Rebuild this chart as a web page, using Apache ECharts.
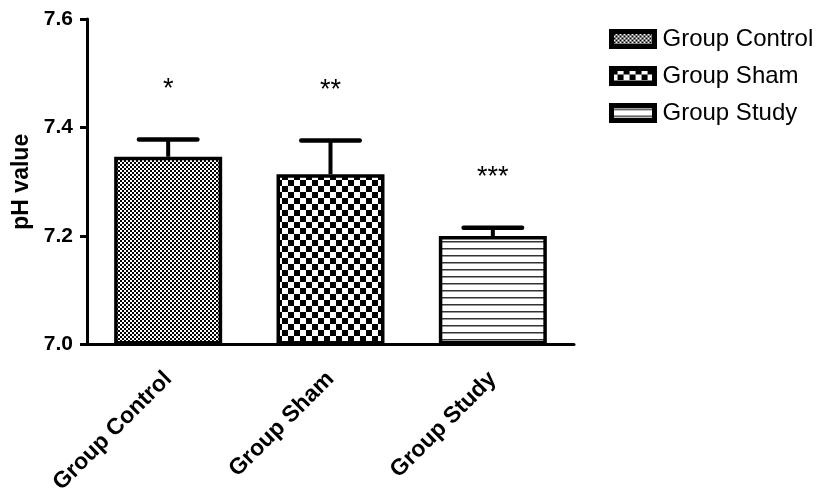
<!DOCTYPE html>
<html>
<head>
<meta charset="utf-8">
<script src="https://cdn.jsdelivr.net/npm/echarts@6/dist/echarts.min.js"></script>
<style>
  html, body { margin: 0; padding: 0; background: #fff; }
  #chart { width: 828px; height: 494px; }
</style>
</head>
<body>
<div id="chart"></div>
<script>
// pH by group: mean with upward SEM bar and significance marks
const categories = ['Group Control', 'Group Sham', 'Group Study'];
const meanPH = [7.346, 7.314, 7.200];
const semPH = [0.032, 0.062, 0.015];
const significance = ['*', '**', '***'];
const yTicks = [7.0, 7.2, 7.4, 7.6];

const FONT = '"Liberation Sans", Arial, Helvetica, sans-serif';

// Fill patterns for the bars (tiled canvases)
function makePattern(w, h, draw) {
  const c = document.createElement('canvas');
  c.width = w; c.height = h;
  const ctx = c.getContext('2d');
  ctx.fillStyle = '#fff';
  ctx.fillRect(0, 0, w, h);
  draw(ctx);
  return { image: c, repeat: 'repeat' };
}
const fineChecks = makePattern(4, 4, ctx => {
  ctx.fillStyle = '#000';
  ctx.fillRect(0, 0, 2, 2);
  ctx.fillRect(2, 2, 2, 2);
});
const coarseChecks = makePattern(12, 12, ctx => {
  ctx.fillStyle = '#000';
  ctx.fillRect(0, 0, 6, 6);
  ctx.fillRect(6, 6, 6, 6);
});
const hLines = makePattern(8, 7, ctx => {
  ctx.fillStyle = '#333';
  ctx.fillRect(0, 3, 8, 1.5);
});
const fills = [fineChecks, coarseChecks, hLines];

const barSeries = categories.map((name, i) => ({
  type: 'bar',
  name: name,
  data: categories.map((_, j) => (j === i ? meanPH[i] : '-')),
  barWidth: 108,
  barGap: '-100%',
  itemStyle: { color: fills[i], borderColor: '#000', borderWidth: 3.5 },
  emphasis: { disabled: true },
  z: 2
}));

const errorSeries = {
  type: 'custom',
  name: 'SEM',
  data: categories.map((_, i) => [i, meanPH[i], meanPH[i] + semPH[i]]),
  encode: { x: 0, y: [1, 2] },
  z: 3,
  silent: true,
  renderItem(params, api) {
    const i = api.value(0);
    const base = api.coord([i, api.value(1)]);
    const top = api.coord([i, api.value(2)]);
    const half = api.size([1, 0])[0] * 0.18;
    return {
      type: 'group',
      children: [
        { type: 'line', shape: { x1: base[0], y1: base[1], x2: top[0], y2: top[1] },
          style: { stroke: '#000', lineWidth: 4 } },
        { type: 'line', shape: { x1: top[0] - half, y1: top[1], x2: top[0] + half, y2: top[1] },
          style: { stroke: '#000', lineWidth: 4.5, lineCap: 'round' } },
        { type: 'text', x: top[0], y: top[1] - 50,
          style: { text: significance[params.dataIndex], fill: '#000', font: '27px ' + FONT,
                   align: 'center', verticalAlign: 'middle' } }
      ]
    };
  }
};

const chart = echarts.init(document.getElementById('chart'), null, { renderer: 'canvas' });
chart.setOption({
  backgroundColor: '#fff',
  animation: false,
  textStyle: { fontFamily: FONT, color: '#000' },
  legend: {
    data: categories,
    orient: 'vertical',
    left: 604,
    top: 22,
    icon: 'rect',
    itemWidth: 43,
    itemHeight: 15,
    itemGap: 13,
    selectedMode: false,
    itemStyle: { borderColor: '#000', borderWidth: 5 },
    textStyle: { fontFamily: FONT, fontSize: 24, color: '#000', padding: [0, 0, 0, 3] }
  },
  grid: { left: 87, right: 254, top: 19, bottom: 149.5, containLabel: false, outerBoundsMode: 'none' },
  xAxis: {
    type: 'category',
    data: categories,
    axisLine: { lineStyle: { color: '#000', width: 3 } },
    axisTick: { alignWithLabel: true, length: 8, lineStyle: { color: '#000', width: 3 } },
    axisLabel: { rotate: 45, interval: 0, margin: 31, color: '#000',
                 fontFamily: FONT, fontSize: 23, fontWeight: 'bold' }
  },
  yAxis: {
    type: 'value',
    min: yTicks[0],
    max: yTicks[yTicks.length - 1],
    interval: Number((yTicks[1] - yTicks[0]).toFixed(2)),
    startValue: yTicks[0],
    name: 'pH value',
    nameLocation: 'middle',
    nameGap: 44,
    nameTextStyle: { fontFamily: FONT, fontSize: 23, fontWeight: 'bold', color: '#000' },
    axisLine: { show: true, lineStyle: { color: '#000', width: 3 } },
    axisTick: { show: true, length: 7, lineStyle: { color: '#000', width: 3 } },
    axisLabel: { margin: 14, color: '#000', fontFamily: FONT, fontSize: 21, fontWeight: 'bold',
                 formatter: v => v.toFixed(1) },
    splitLine: { show: false }
  },
  series: [...barSeries, errorSeries]
});
</script>
</body>
</html>
